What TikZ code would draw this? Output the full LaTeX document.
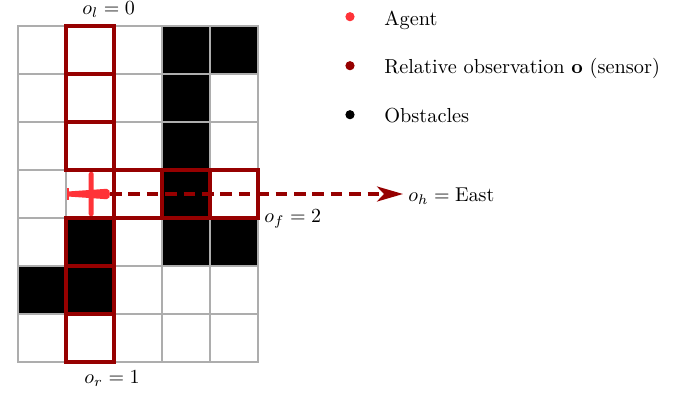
\documentclass[tikz,border=0pt]{standalone}
\usetikzlibrary{arrows.meta}
\definecolor{agentred}{RGB}{255,51,56}
\definecolor{obsred}{RGB}{150,0,0}
\tikzset{
  every node/.append style={font=\fontsize{10.15}{12}\selectfont},
  cell/.style={draw=black!32,line width=0.7pt,minimum size=24pt,inner sep=0pt,outer sep=0pt,fill=white,anchor=north west},
  blackcell/.style={cell,fill=black},
  sensor/.style={draw=obsred,line width=1.6pt,minimum size=24pt,inner sep=0pt,outer sep=0pt,anchor=north west},
  legenddot/.style={circle,inner sep=0pt,minimum size=4.6pt},
  legendtext/.style={anchor=base west,inner sep=0pt},
  lab/.style={inner sep=0pt,anchor=base west},
  heading/.style={draw=obsred,line width=1.6pt,dash pattern=on 5.8pt off 3.4pt,-{Stealth[length=13pt,width=7.5pt,inset=3.5pt]}}
}
\begin{document}
\begin{tikzpicture}[x=0.5pt,y=-0.5pt]
\useasboundingbox (0,0) rectangle (687,392);
% grid
\foreach \c in {0,...,4}{
  \foreach \r in {0,...,6}{
    \node[cell] (c\c r\r) at ({18+48*\c},{26+48*\r}) {};
  }
}
\foreach \c/\r in {3/0,4/0,3/1,3/2,3/3,1/4,3/4,4/4,0/5,1/5}{
  \node[blackcell] (b\c r\r) at ({18+48*\c},{26+48*\r}) {};
}
% sensor cells
\foreach \c/\r in {1/0,1/1,1/2,1/4,1/5,1/6,2/3,3/3,4/3}{
  \node[sensor] (s\c r\r) at ({18+48*\c},{26+48*\r}) {};
}
% agent
\coordinate (nose) at (110,194);
\fill[agentred] (68,191.5) -- (106.5,188.8) .. controls (109,188.8) and (110,191) .. (110,194) .. controls (110,197) and (109,199.2) .. (106.5,199.2) -- (68,196.5) -- cycle;
\fill[agentred,rounded corners=1pt] (88.7,172) rectangle (93.7,216);
\fill[agentred] (66.7,187.7) rectangle (69.3,200);
% labels
\node[lab] (ol) at (82,14.5) {$o_l=0$};
\node[lab] (or) at (84,383) {$o_r=1$};
\node[lab] (of) at (264,222) {$o_f=2$};
\node[lab] (oh) at (408,201) {$o_h=\mathrm{East}$};
\coordinate (tip) at (403,194);
\draw[heading] (nose) -- (tip);
% legend
\node[legenddot,fill=agentred] (d1) at (350,16.7) {};
\node[legenddot,fill=obsred] (d2) at (350,65.7) {};
\node[legenddot,fill=black] (d3) at (350,114.7) {};
\node[legendtext] (t1) at (384,25) {Agent};
\node[legendtext] (t2) at (384,73) {Relative observation $\mathbf{o}$ (sensor)};
\node[legendtext] (t3) at (384,122) {Obstacles};
\end{tikzpicture}
\end{document}
